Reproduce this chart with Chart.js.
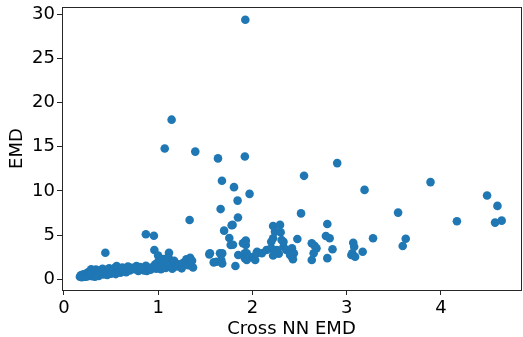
<!DOCTYPE html>
<html>
<head>
<meta charset="utf-8">
<script src="https://cdn.jsdelivr.net/npm/chart.js@4/dist/chart.umd.min.js"></script>
<style>
  html, body { margin: 0; padding: 0; background: #fff; }
  #wrap { width: 523px; height: 337px; }
</style>
</head>
<body>
<div id="wrap"><canvas id="chart" width="523" height="337"></canvas></div>
<script>
// Cross NN EMD (x) vs EMD (y)
const crossNN = [
  0.17, 0.18, 0.19, 0.20, 0.21, 0.22, 0.23, 0.24, 0.25, 0.26, 0.27, 0.28, 0.29, 0.30,
  0.31, 0.32, 0.33, 0.34, 0.35, 0.36, 0.37, 0.38, 0.39, 0.40, 0.41, 0.42, 0.43, 0.44,
  0.45, 0.46, 0.47, 0.48, 0.50, 0.51, 0.52, 0.54, 0.55, 0.56, 0.57, 0.59, 0.60, 0.62,
  0.63, 0.65, 0.66, 0.68, 0.70, 0.72, 0.75, 0.77, 0.79, 0.81, 0.83, 0.85, 0.87, 0.88,
  0.90, 0.92, 0.95, 0.97, 0.98, 1.00, 1.02, 1.03, 1.05, 1.06, 1.08, 1.10, 1.11, 1.13,
  1.15, 1.17, 1.20, 1.22, 1.25, 1.27, 1.30, 1.32, 1.34, 1.37, 1.36,
  0.19, 0.22, 0.25, 0.28, 0.33,
  0.44, 0.87, 0.955, 0.96, 1.115, 1.00, 0.81,
  1.07, 1.143, 1.394, 1.635, 1.925, 1.677, 1.805, 1.97, 1.843, 1.663, 1.847, 1.334,
  1.92, 1.543, 1.59, 1.62, 1.55, 1.656, 1.68, 1.67, 1.68, 1.82, 1.85, 1.92, 1.99,
  2.05, 1.94, 2.03, 2.044, 2.10, 2.15, 2.20, 2.26, 2.33, 2.36, 2.42, 2.44, 2.42,
  2.43, 2.40, 2.22, 2.28, 1.92, 1.93, 1.92, 1.94,
  1.70, 1.755, 1.77, 1.79, 1.78, 1.90, 1.93, 1.794, 2.22, 2.293, 2.24, 2.30, 2.31,
  2.22, 2.20, 2.33, 2.477, 2.516, 2.795, 2.63, 2.68, 2.66, 2.78, 2.82, 2.85, 2.63,
  2.65, 2.795, 3.07, 3.08, 3.06, 3.05, 3.09, 3.17, 3.28, 3.627, 3.595, 3.546, 4.17,
  4.575, 4.645, 4.49, 4.60, 3.89, 3.19, 2.90, 2.548
];
const emd = [
  0.30, 0.45, 0.35, 0.55, 0.40, 0.60, 0.30, 0.50, 0.75, 0.40, 0.90, 0.55, 1.15, 0.35,
  0.70, 0.95, 0.50, 1.10, 0.65, 0.85, 0.40, 1.00, 0.60, 0.80, 1.20, 0.55, 0.90, 0.70,
  1.05, 0.50, 0.85, 1.25, 0.65, 1.00, 0.80, 1.30, 0.60, 1.50, 0.90, 1.10, 0.75, 1.35,
  0.95, 1.20, 0.80, 1.45, 1.00, 1.30, 1.15, 1.50, 0.95, 1.40, 1.20, 1.00, 1.55, 0.95,
  1.30, 1.10, 1.45, 1.70, 1.20, 2.00, 1.40, 1.15, 1.60, 2.30, 1.30, 1.90, 2.50, 1.50,
  1.20, 2.10, 1.45, 1.70, 1.25, 1.90, 2.27, 1.60, 2.45, 1.35, 2.10,
  0.25, 0.30, 0.35, 0.45, 0.30,
  3.02, 5.10, 4.93, 3.32, 3.02, 2.70, 1.25,
  14.80, 18.06, 14.45, 13.68, 29.35, 11.16, 10.43, 9.67, 8.91, 7.95, 7.00, 6.72,
  13.90, 2.83, 1.92, 2.00, 2.95, 2.95, 2.94, 2.19, 1.80, 1.51, 2.75, 2.40, 2.50,
  3.13, 2.19, 2.19, 2.95, 2.95, 3.32, 3.51, 3.32, 3.70, 3.32, 3.51, 2.95, 2.56,
  2.27, 2.75, 2.70, 2.90, 4.26, 3.89, 2.95, 2.95,
  5.51, 4.68, 3.89, 6.16, 6.12, 4.08, 4.38, 3.92, 6.04, 6.16, 5.40, 5.33, 4.46,
  4.65, 4.26, 4.26, 4.57, 7.46, 6.27, 4.08, 3.51, 3.80, 4.91, 4.65, 3.40, 2.19,
  2.95, 2.40, 4.15, 3.70, 2.95, 2.75, 2.56, 3.13, 4.65, 4.60, 3.77, 7.55, 6.57,
  6.42, 6.64, 9.48, 8.31, 11.00, 10.12, 13.15, 11.71
];
const xTicks = [0, 1, 2, 3, 4];
const yTicks = [0, 5, 10, 15, 20, 25, 30];

const points = crossNN.map((x, i) => ({ x: x, y: emd[i] }));
const tickFont = { family: 'DejaVu Sans', size: 18 };
const titleFont = { family: 'DejaVu Sans', size: 18, lineHeight: 1 };
const spine = '#262626';

// matplotlib-style frame round the plot area
const frame = {
  id: 'frame',
  afterDraw(chart) {
    const a = chart.chartArea;
    const ctx = chart.ctx;
    ctx.save();
    ctx.strokeStyle = spine;
    ctx.lineWidth = 1;
    ctx.strokeRect(Math.round(a.left) + 0.5, Math.round(a.top) + 0.5,
      Math.round(a.right - a.left), Math.round(a.bottom - a.top));
    ctx.restore();
  },
};

new Chart(document.getElementById('chart').getContext('2d'), {
  type: 'scatter',
  data: {
    datasets: [{
      data: points,
      backgroundColor: '#1f77b4',
      borderWidth: 0,
      pointRadius: 4.3,
    }],
  },
  options: {
    responsive: false,
    animation: false,
    layout: { autoPadding: false, padding: { top: 7, right: 2, left: 0, bottom: 0 } },
    plugins: { legend: { display: false }, tooltip: { enabled: false } },
    scales: {
      x: {
        type: 'linear',
        min: -0.02,
        max: 4.85,
        afterBuildTicks: (s) => { s.ticks = xTicks.map(v => ({ value: v })); },
        afterFit: (s) => { s.height = 47; s.paddingLeft = 0; s.paddingRight = 0; },
        grid: { drawOnChartArea: false, color: spine, tickLength: 5, lineWidth: 1 },
        border: { color: spine, width: 1 },
        ticks: { color: '#000', font: tickFont, padding: 3, maxRotation: 0 },
        title: { display: true, text: 'Cross NN EMD', color: '#000', font: titleFont, padding: { top: 0, bottom: -1 } },
      },
      y: {
        type: 'linear',
        min: -1.2,
        max: 30.8,
        afterBuildTicks: (s) => { s.ticks = yTicks.map(v => ({ value: v })); },
        afterFit: (s) => { s.width = 62; s.paddingTop = 0; s.paddingBottom = 0; },
        grid: { drawOnChartArea: false, color: spine, tickLength: 5, lineWidth: 1 },
        border: { color: spine, width: 1 },
        ticks: { color: '#000', font: tickFont, padding: 2 },
        title: { display: true, text: 'EMD', color: '#000', font: titleFont, padding: { top: 8, bottom: 0 } },
      },
    },
  },
  plugins: [frame],
});
</script>
</body>
</html>
